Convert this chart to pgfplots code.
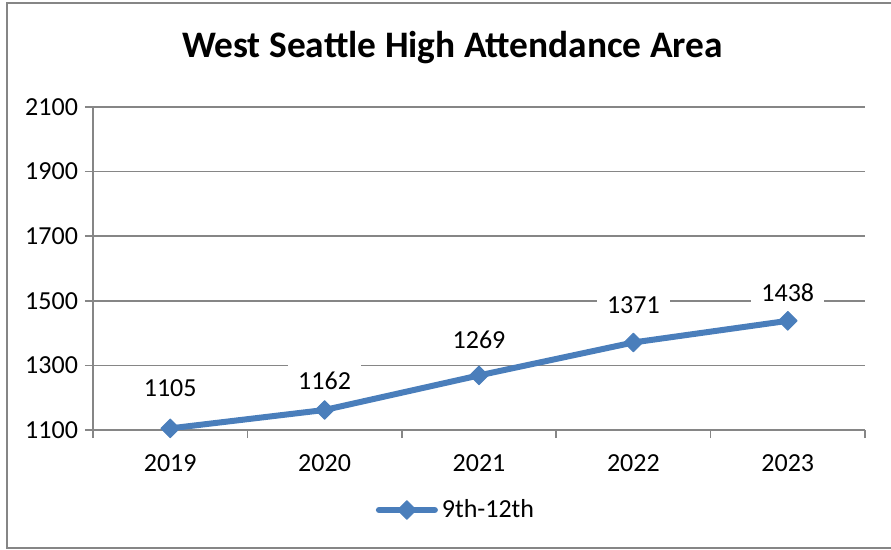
\documentclass[border=0pt]{standalone}
\usepackage{fontspec}
\setmainfont{Carlito}
\usepackage{pgfplots}
\pgfplotsset{compat=1.18}
\definecolor{xlblue}{HTML}{4A7EBB}
\definecolor{xlgray}{HTML}{868686}

\begin{document}
\begin{tikzpicture}
\useasboundingbox (0,0) rectangle (445.5bp,275bp);
% chart area border (runs off the right edge, as in the original)
\draw[xlgray, line width=0.75bp] (3.5bp,1bp) rectangle (452bp,273.5bp);
\node[font=\fontsize{18.7bp}{22bp}\bfseries\selectfont] at (226.25bp,251bp) {West Seattle High Attendance Area};
\begin{axis}[
  at={(46.5bp,60bp)}, anchor=south west,
  scale only axis, width=386bp, height=161.5bp,
  xmin=-0.5, xmax=4.5, ymin=1100, ymax=2100,
  xtick={-0.5,0.5,1.5,2.5,3.5,4.5},
  xticklabels={2019,2020,2021,2022,2023},
  x tick label as interval,
  xticklabel style={yshift=-5bp},
  ytick={1100,1300,1500,1700,1900,2100},
  axis x line*=bottom, axis y line*=left,
  axis line style={xlgray, line width=0.75bp, -},
  ymajorgrids, grid style={xlgray, line width=0.75bp},
  tick align=outside, major tick length=4bp,
  tick style={xlgray, line width=0.75bp},
  ticklabel style={font=\fontsize{13bp}{15bp}\selectfont, text=black},
  /pgf/number format/assume math mode=true,
  /pgf/number format/1000 sep={},
  legend style={at={(axis description cs:0.4715,-0.2477)}, anchor=center,
    draw=none, fill=none, font=\fontsize{13bp}{15bp}\selectfont},
  legend image code/.code={\draw[mark repeat=2,mark phase=2] plot coordinates {(0bp,0bp)(14bp,0bp)(28bp,0bp)};},
]
\addplot[xlblue, line width=3bp, line cap=round, line join=round,
  mark=square*, mark size=3.3bp, mark options={rotate=45, line width=0.5bp},
  nodes near coords, point meta=explicit,
  visualization depends on={\thisrow{dy}\as\dy},
  every node near coord/.append style={anchor=center, yshift=\dy bp, fill=white,
    inner xsep=5bp, text=black, font=\fontsize{13bp}{15bp}\selectfont}]
  table[x=x, y=y, meta=y] {
x y dy
0 1105 20
1 1162 14.5
2 1269 18
3 1371 18.5
4 1438 14.25
};
\addlegendentry{9th-12th}
\end{axis}
\end{tikzpicture}
\end{document}
